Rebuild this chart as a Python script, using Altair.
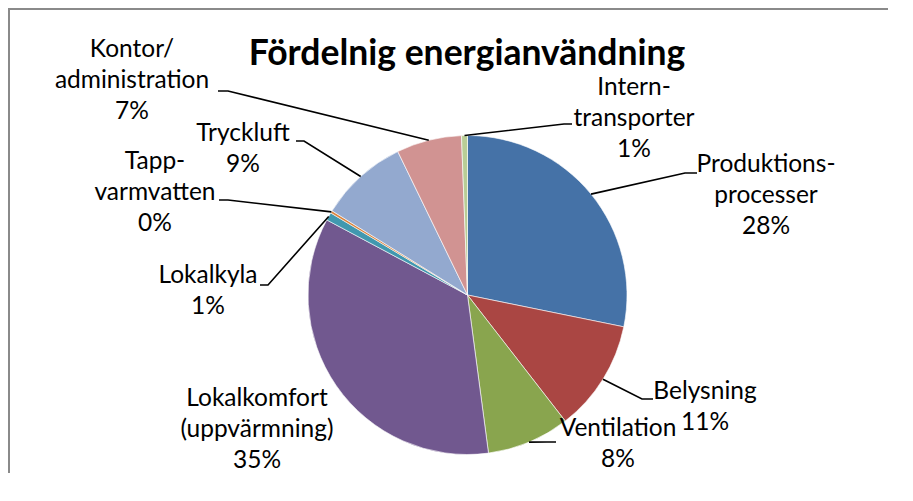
import math
import altair as alt
import pandas as pd

# ---------------- data ----------------
categories = [
    "Produktionsprocesser", "Belysning", "Ventilation",
    "Lokalkomfort (uppvärmning)", "Lokalkyla", "Tappvarmvatten",
    "Tryckluft", "Kontor/administration", "Interntransporter",
]
label_lines = [
    ["Produktions-", "processer"], ["Belysning"], ["Ventilation"],
    ["Lokalkomfort", "(uppvärmning)"], ["Lokalkyla"], ["Tapp-", "varmvatten"],
    ["Tryckluft"], ["Kontor/", "administration"], ["Intern-", "transporter"],
]
shares = [28.2, 11.3, 8.4, 34.9, 0.8, 0.25, 8.95, 6.6, 0.6]
colors = ["#4572A7", "#AA4643", "#89A54E", "#71588F", "#4198AF",
          "#DB843D", "#93A9CF", "#D19392", "#B9CD96"]
title_text = "Fördelnig energianvändning"

# ---------------- layout (chart pixel coordinates) ----------------
W, H = 880, 465
CX, CY, R = 459.5, 287.0, 159.5
# position of the first text line of each label
label_first = [(758, 157), (697, 384), (610, 421), (249, 391), (200, 268),
               (147, 154), (235, 126), (124, 42), (626, 80)]
leader_end = [(689, 165), (645, 391), (548, 434), None, (252, 277),
              (211, 192), (288, 133), (210, 83), (564, 116)]
elbow_dx = [-12, -11, -9, 0, 8, 9, 8, 10, -8]
FONT = "Lato"
LABEL_SIZE = 24.5
LINE_H = 31

# ---------------- tables ----------------
total = sum(shares)
pie_df = pd.DataFrame({
    "kategori": categories,
    "andel": shares,
    "ordning": list(range(len(categories))),
})

lab_rows, line_rows = [], []
cum = 0.0
for i, (cat, s) in enumerate(zip(categories, shares)):
    mid = (cum + s / 2) / total
    cum += s
    pct = f"{round(s)}%"
    txt = "\n".join(label_lines[i] + [pct])
    lx, ly = label_first[i]
    lab_rows.append({"kategori": cat, "text": txt, "x": lx, "y": ly})
    if leader_end[i] is not None:
        ang = 2 * math.pi * mid
        sx = CX + R * math.sin(ang)
        sy = CY - R * math.cos(ang)
        ex, ey = leader_end[i]
        pts = [(sx, sy), (ex + elbow_dx[i], ey), (ex, ey)]
        for k, (px, py) in enumerate(pts):
            line_rows.append({"kategori": cat, "k": k, "x": px, "y": py})

lab_df = pd.DataFrame(lab_rows)
line_df = pd.DataFrame(line_rows)
title_df = pd.DataFrame({"text": [title_text], "x": [459], "y": [46]})

xs = alt.Scale(domain=[0, W], nice=False, zero=False)
ys = alt.Scale(domain=[0, H], nice=False, zero=False, reverse=True)

pie = alt.Chart(pie_df).mark_arc(
    radius=R, stroke="#FFFFFF", strokeWidth=0.6
).encode(
    theta=alt.Theta("andel:Q", stack=True),
    order=alt.Order("ordning:Q"),
    color=alt.Color("kategori:N", scale=alt.Scale(domain=categories, range=colors), legend=None),
    x=alt.value(CX),
    y=alt.value(CY),
)

leaders = alt.Chart(line_df).mark_line(color="#000000", strokeWidth=1.6).encode(
    x=alt.X("x:Q", scale=xs, axis=None),
    y=alt.Y("y:Q", scale=ys, axis=None),
    detail="kategori:N",
    order="k:Q",
)

labels = alt.Chart(lab_df).mark_text(
    font=FONT, fontSize=LABEL_SIZE, color="#000000", align="center",
    baseline="middle", lineBreak="\n", lineHeight=LINE_H,
).encode(
    x=alt.X("x:Q", scale=xs, axis=None),
    y=alt.Y("y:Q", scale=ys, axis=None),
    text="text:N",
)

title = alt.Chart(title_df).mark_text(
    font=FONT, fontSize=35.5, fontWeight="bold", color="#000000",
    align="center", baseline="middle",
).encode(
    x=alt.X("x:Q", scale=xs, axis=None),
    y=alt.Y("y:Q", scale=ys, axis=None),
    text="text:N",
)

frame_left = alt.Chart(title_df).mark_rule(color="#8A8A8A", strokeWidth=2).encode(
    x=alt.value(1), y=alt.value(0), y2=alt.value(H)
)
frame_top = alt.Chart(title_df).mark_rule(color="#8A8A8A", strokeWidth=2).encode(
    x=alt.value(0), x2=alt.value(W), y=alt.value(1)
)
# white cover over the right edge of the drawing area
edge_cover = alt.Chart(title_df).mark_rule(color="#FFFFFF", strokeWidth=4).encode(
    x=alt.value(W - 1), y=alt.value(3), y2=alt.value(H)
)

chart = alt.layer(pie, leaders, labels, title, frame_left, frame_top, edge_cover).properties(
    width=W, height=H, padding=0,
    autosize=alt.AutoSizeParams(type="none"),
    background="#FFFFFF",
).configure_view(strokeWidth=0, stroke="transparent")

chart.save("out.html", embed_options={"renderer": "svg", "actions": False})
